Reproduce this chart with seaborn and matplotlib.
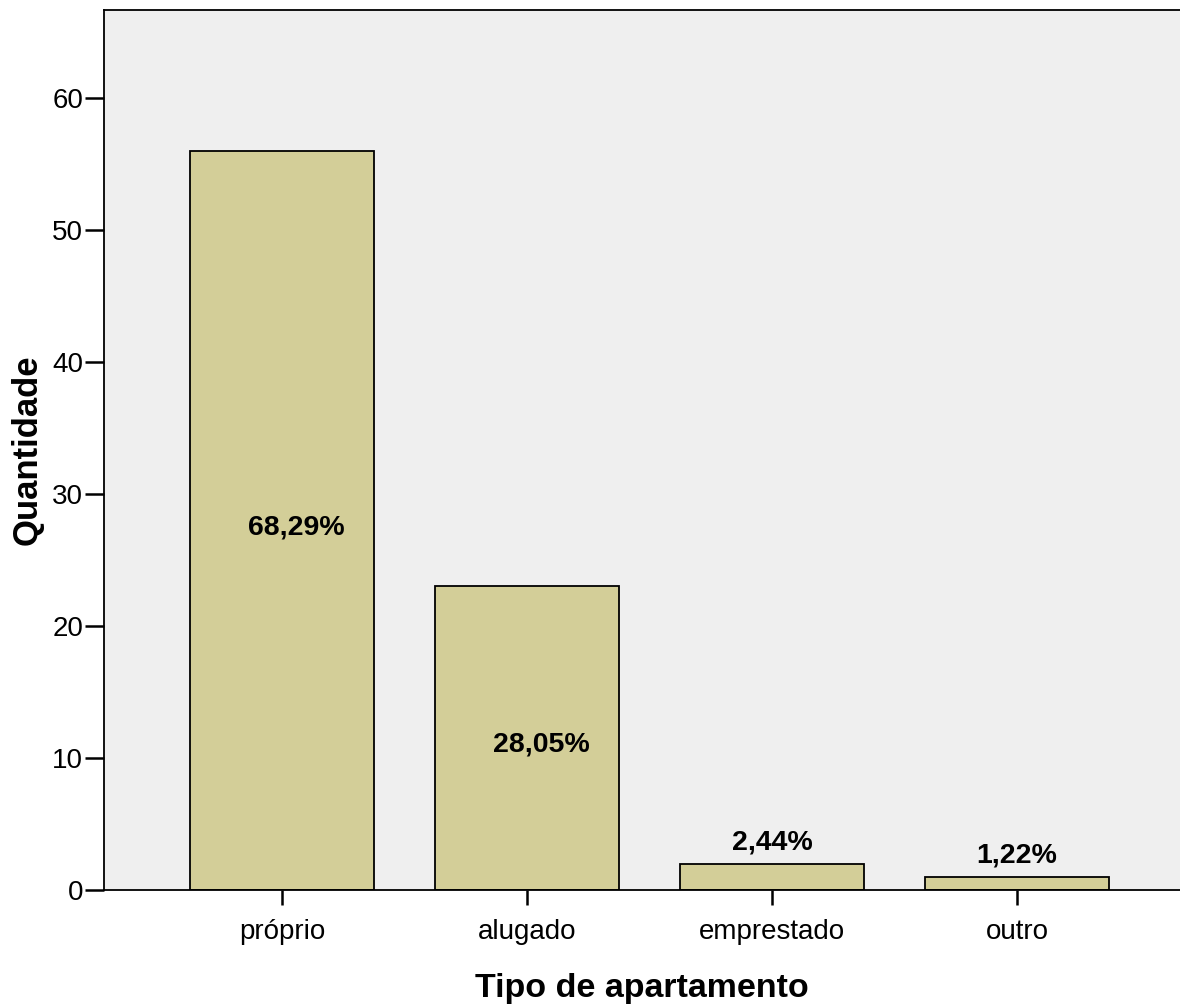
import pandas as pd
import seaborn as sns
import matplotlib.pyplot as plt

# Dados
categorias = ["próprio", "alugado", "emprestado", "outro"]
quantidades = [56, 23, 2, 1]
percentuais = ["68,29%", "28,05%", "2,44%", "1,22%"]

df = pd.DataFrame({"tipo": categorias, "quantidade": quantidades})

sns.set_style("white")
plt.rcParams["font.family"] = ["Liberation Sans", "DejaVu Sans"]
plt.rcParams["text.color"] = "black"
plt.rcParams["axes.labelcolor"] = "black"
plt.rcParams["xtick.color"] = "black"
plt.rcParams["ytick.color"] = "black"

fig = plt.figure(figsize=(11.8, 10.08), dpi=100)
ax = fig.add_axes([104 / 1180, 118 / 1008, 1 - 104 / 1180, 880 / 1008])
ax.set_facecolor("#EFEFEF")

sns.barplot(data=df, x="tipo", y="quantidade", color="#D3CE98",
            edgecolor="black", linewidth=1.3, width=0.75, saturation=1, ax=ax)

# Rótulos de percentual
for i, (v, p) in enumerate(zip(quantidades, percentuais)):
    if v > 10:
        ax.text(i + 0.06, v / 2 - 0.5, p, ha="center", va="center",
                fontsize=20.5, fontweight="bold")
    else:
        ax.text(i, v + 1.6, p, ha="center", va="center",
                fontsize=20.5, fontweight="bold")

ax.set_xlim(-0.727, 3.665)
ax.set_ylim(0, 66.67)
ax.set_yticks(range(0, 61, 10))
ax.tick_params(axis="y", length=14, width=1.8, labelsize=20, pad=1, direction="out", left=True)
ax.tick_params(axis="x", length=11, width=1.8, labelsize=20, pad=10, direction="out", bottom=True)

for lado in ["top", "left", "bottom"]:
    ax.spines[lado].set_color("black")
    ax.spines[lado].set_linewidth(1.3)
ax.spines["right"].set_visible(False)

ax.set_xlabel("Tipo de apartamento", fontsize=24.5, fontweight="bold", labelpad=20)
ax.set_ylabel("Quantidade", fontsize=25, fontweight="bold", labelpad=6)

plt.savefig("out.png", dpi=100)
